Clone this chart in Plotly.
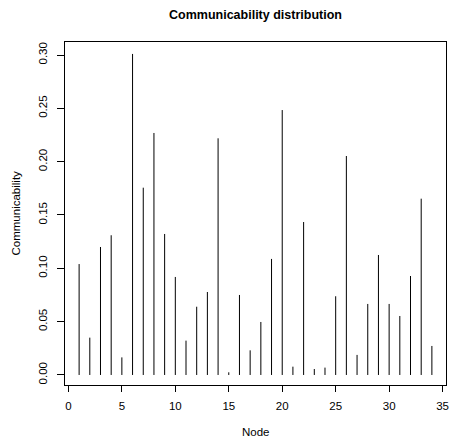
import plotly.graph_objects as go

nodes = list(range(1, 35))
communicability = [0.104, 0.035, 0.120, 0.131, 0.0165, 0.301, 0.1756, 0.2269, 0.1322, 0.0919,
                   0.0322, 0.064, 0.0778, 0.2219, 0.0025, 0.075, 0.0231, 0.0497, 0.1088, 0.2484,
                   0.0078, 0.1434, 0.0056, 0.0069, 0.0738, 0.2053, 0.0188, 0.0666, 0.1125, 0.0666,
                   0.0553, 0.0928, 0.1653, 0.0272]
x_ticks = [0, 5, 10, 15, 20, 25, 30, 35]
y_ticks = [0.00, 0.05, 0.10, 0.15, 0.20, 0.25, 0.30]

xs, ys = [], []
for n, v in zip(nodes, communicability):
    xs += [n, n, None]
    ys += [0, v, None]

FONT = "Liberation Sans, Arial, Helvetica, sans-serif"

fig = go.Figure()
fig.add_trace(go.Scatter(x=xs, y=ys, mode="lines",
                         line=dict(color="black", width=1), hoverinfo="skip",
                         showlegend=False))

fig.update_layout(
    width=452, height=440,
    margin=dict(l=65, r=3, t=42, b=55),
    paper_bgcolor="white", plot_bgcolor="white",
    font=dict(family=FONT, size=11.5, color="black"),
    title=dict(text="<b>Communicability distribution</b>", x=0.5, xref="paper",
               y=1 - 15 / 440, yref="container", yanchor="middle", xanchor="center",
               font=dict(family=FONT, size=12.5, color="black")),
    xaxis=dict(range=[-0.32, 35.32], tickvals=x_ticks, ticks="outside", ticklen=6,
               tickcolor="black", showgrid=False, zeroline=False,
               showline=True, linecolor="black", linewidth=1, mirror=True,
               ticklabelstandoff=4, tickfont=dict(size=11.5)),
    yaxis=dict(range=[-0.0094, 0.3122], tickvals=y_ticks, tickformat=".2f",
               ticks="outside", ticklen=7, tickcolor="black", tickangle=-90,
               showgrid=False, zeroline=False,
               showline=True, linecolor="black", linewidth=1, mirror=True,
               ticklabelstandoff=5, tickfont=dict(size=11.5)),
    annotations=[
        dict(text="Node", xref="paper", yref="paper", x=0.5, y=0, yshift=-47,
             showarrow=False, xanchor="center", yanchor="middle", font=dict(size=11.5)),
        dict(text="Communicability", xref="paper", yref="paper", x=0, y=0.5, xshift=-50,
             textangle=-90, showarrow=False, xanchor="center", yanchor="middle",
             font=dict(size=11.5)),
    ],
)

fig.write_html("out.html")
